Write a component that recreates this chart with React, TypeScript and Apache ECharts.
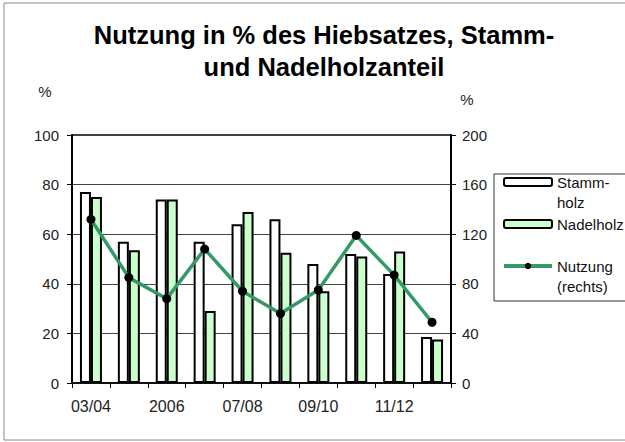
import React, { useEffect, useRef } from "react";
import * as echarts from "echarts";

const categories = ["03/04", "04/05", "2006", "06/07", "07/08", "08/09", "09/10", "10/11", "11/12", "12/13"];
const stammholz = [77, 57, 74, 57, 64, 66, 48, 52, 44, 18.5];
const nadelholz = [75, 53.5, 74, 29, 69, 52.5, 37, 51, 53, 17.5];
const nutzung = [132, 85, 68, 108, 74, 56, 75, 119, 87, 49];
const leftTicks = { min: 0, max: 100, interval: 20 };
const rightTicks = { min: 0, max: 200, interval: 40 };

const FONT = "'Liberation Sans', Arial, sans-serif";

export default function App() {
  const ref = useRef<HTMLDivElement>(null);
  useEffect(() => {
    document.body.style.margin = "0";
    const chart = echarts.init(ref.current!, null, { renderer: "svg" });
    chart.setOption({
      animation: false,
      backgroundColor: "#fff",
      textStyle: { fontFamily: FONT },
      title: {
        text: "Nutzung in % des Hiebsatzes, Stamm-\nund Nadelholzanteil",
        left: 319,
        top: 14,
        textAlign: "center",
        textStyle: { fontSize: 25.5, fontWeight: "bold", color: "#000", lineHeight: 32, fontFamily: FONT },
      },
      graphic: [
        {
          type: "rect",
          shape: { x: 4, y: 3, width: 700, height: 437 },
          style: { fill: "none", stroke: "#888", lineWidth: 1 },
          silent: true,
          z: -10,
        },
        {
          type: "rect",
          shape: { x: 494, y: 174, width: 200, height: 127 },
          style: { fill: "#fff", stroke: "#333", lineWidth: 1 },
          silent: true,
          z: 0,
        },
      ],
      legend: {
        orient: "vertical",
        left: 502,
        top: 152,
        padding: 0,
        itemWidth: 48,
        itemHeight: 8,
        itemGap: 2,
        z: 10,
        lineStyle: { width: 4 },
        textStyle: { fontSize: 15, color: "#111", lineHeight: 20, fontFamily: FONT },
        data: ["Stammholz", "Nadelholz", "Nutzung"],
        formatter: (n: string) =>
          n === "Stammholz" ? "\nStamm-\nholz" : n === "Nutzung" ? "\nNutzung\n(rechts)" : n,
      },
      grid: { left: 72, right: 174, top: 135, bottom: 59, show: true, borderColor: "#000", borderWidth: 1.5 },
      xAxis: {
        type: "category",
        data: categories,
        axisLine: { lineStyle: { color: "#000", width: 1.5 } },
        axisTick: { show: true, interval: 0, length: 5, lineStyle: { color: "#000" } },
        axisLabel: { interval: 1, fontSize: 16, color: "#222", margin: 15, fontFamily: FONT },
      },
      yAxis: [
        {
          type: "value",
          ...leftTicks,
          name: "%",
          nameLocation: "end",
          nameGap: 36,
          nameTextStyle: { fontSize: 15, color: "#222", padding: [0, 54, 0, 0], fontFamily: FONT },
          axisLine: { show: true, lineStyle: { color: "#000", width: 2 } },
          axisTick: { show: true, inside: false, length: 5, lineStyle: { color: "#000" } },
          axisLabel: { fontSize: 15, color: "#222", margin: 13, fontFamily: FONT },
          splitLine: { show: true, lineStyle: { color: "#444", width: 1 } },
        },
        {
          type: "value",
          ...rightTicks,
          position: "right",
          name: "%",
          nameLocation: "end",
          nameGap: 28,
          nameTextStyle: { fontSize: 15, color: "#222", padding: [0, 0, 0, 32], fontFamily: FONT },
          axisLine: { show: true, lineStyle: { color: "#000", width: 2 } },
          axisTick: { show: true, inside: false, length: 5, lineStyle: { color: "#000" } },
          axisLabel: { fontSize: 15, color: "#222", margin: 11, fontFamily: FONT },
          splitLine: { show: false },
        },
      ],
      series: [
        {
          name: "Stammholz",
          type: "bar",
          yAxisIndex: 0,
          data: stammholz,
          barWidth: 11,
          barGap: "0%",
          itemStyle: { color: "#ffffff", borderColor: "#000", borderWidth: 2 },
        },
        {
          name: "Nadelholz",
          type: "bar",
          yAxisIndex: 0,
          data: nadelholz,
          barWidth: 11,
          barGap: "0%",
          itemStyle: { color: "#ccffcc", borderColor: "#000", borderWidth: 2 },
        },
        {
          name: "Nutzung",
          type: "line",
          yAxisIndex: 1,
          data: nutzung,
          symbol: "circle",
          symbolSize: 9,
          lineStyle: { color: "#339966", width: 3.5 },
          itemStyle: { color: "#000" },
          z: 5,
        },
      ],
    });
    return () => chart.dispose();
  }, []);
  return <div ref={ref} style={{ position: "fixed", left: 0, top: 0, width: 625, height: 442 }} />;
}
